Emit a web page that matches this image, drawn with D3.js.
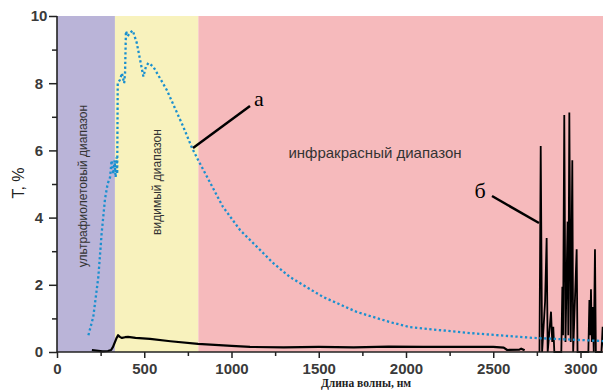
<!DOCTYPE html>
<html>
<head>
<meta charset="utf-8">
<script src="https://cdn.jsdelivr.net/npm/d3@7"></script>
<style>
  body { margin: 0; background: #fff; }
  svg { display: block; }
</style>
</head>
<body>
<svg id="chart" width="603" height="392"></svg>
<script>
// spectral ranges (nm)
const bandEdges = [0, 332, 810, 3140]
const bandColors = ['#bab4d8', '#f8f2bd', '#f6babc']
const bandLabels = ['ультрафиолетовый диапазон', 'видимый диапазон', 'инфракрасный диапазон']

// curve a (dotted blue): [nm, T%]
const curveA = [
  [180, 0.5], [208, 1.05], [237, 2.24], [256, 3.54], [275, 4.55], [290, 5.0],
  [304, 5.2], [313, 5.7], [322, 5.3], [330, 5.7], [336, 5.2], [342, 5.8],
  [345, 5.3], [348, 8.0], [361, 8.1], [372, 8.3], [385, 8.0], [390, 8.3],
  [395, 9.55], [405, 9.4], [418, 9.5], [434, 9.57], [457, 9.2], [495, 8.2],
  [510, 8.5], [524, 8.6], [551, 8.5], [629, 7.8], [724, 6.7], [774, 6.07],
  [810, 5.7], [951, 4.32], [1049, 3.63], [1146, 3.13], [1238, 2.65], [1335, 2.23],
  [1524, 1.64], [1719, 1.19], [1908, 0.89], [2023, 0.74], [2350, 0.57],
  [2728, 0.42], [3112, 0.33], [3140, 0.32]
]

// curve б (black) - continuous part
const curveB = [
  [200, 0.06], [260, 0.02], [292, 0.03], [310, 0.06], [321, 0.15], [340, 0.4],
  [350, 0.5], [360, 0.45], [372, 0.42], [390, 0.44], [407, 0.45], [450, 0.42],
  [533, 0.39], [650, 0.32], [808, 0.24], [1000, 0.18], [1106, 0.15], [1300, 0.14],
  [1500, 0.15], [1700, 0.14], [1900, 0.16], [2100, 0.15], [2300, 0.15], [2500, 0.15],
  [2560, 0.13], [2580, 0.06], [2650, 0.07], [2660, 0.1], [2680, 0.05]
]

// curve б - absorption peaks region
const curveBPeaks = [
  [2765, 0], [2772, 6.13], [2780, 0], [2797, 1.5], [2806, 3.39], [2812, 0],
  [2831, 1.2], [2838, 0.3], [2844, 0.75], [2850, 0], [2890, 0], [2896, 1.94],
  [2900, 0.5], [2907, 7.05], [2914, 0.3], [2926, 3.88], [2930, 0.5], [2936, 7.13],
  [2944, 0.3], [2953, 5.71], [2958, 0], [2978, 3.06], [2983, 0], [3045, 0],
  [3051, 1.55], [3056, 0.5], [3060, 1.87], [3065, 0.3], [3070, 1.34], [3076, 0],
  [3083, 3.06], [3088, 0], [3120, 0], [3127, 0.75], [3135, 0]
]

const xTicks = [0, 500, 1000, 1500, 2000, 2500, 3000]
const yTicks = [0, 2, 4, 6, 8, 10]

const svg = d3.select('#chart')
const padLeft = 57
const padTop = 16
const baseY = 352
const sans = 'Arial, "Liberation Sans", sans-serif'

const x = d3.scaleLinear()
  .domain([0, 3140])
  .range([padLeft, padLeft + 0.1745 * 3140])
const y = d3.scaleLinear()
  .domain([0, 10])
  .range([baseY, padTop])

svg.append('clipPath').attr('id', 'clip')
  .append('rect')
  .attr('x', padLeft).attr('y', 0)
  .attr('width', 603 - padLeft).attr('height', baseY + 1)

const g = svg.append('g').attr('clip-path', 'url(#clip)')

//* * bands
g.selectAll('.band')
  .data(bandColors)
  .enter().append('rect')
  .attr('class', 'band')
  .attr('x', (d, i) => x(bandEdges[i]))
  .attr('y', y(10))
  .attr('width', (d, i) => x(bandEdges[i + 1]) - x(bandEdges[i]))
  .attr('height', y(0) - y(10))
  .attr('fill', (d) => d)

//* * band labels
g.append('text')
  .attr('transform', 'translate(87,' + 186 + ') rotate(-90)')
  .attr('text-anchor', 'middle')
  .style('font', '12px ' + sans)
  .attr('fill', '#333')
  .text(bandLabels[0])
g.append('text')
  .attr('transform', 'translate(161,' + 182 + ') rotate(-90)')
  .attr('text-anchor', 'middle')
  .style('font', '12px ' + sans)
  .attr('fill', '#333')
  .text(bandLabels[1])
g.append('text')
  .attr('x', 375).attr('y', 158)
  .attr('text-anchor', 'middle')
  .style('font', '15px ' + sans)
  .attr('fill', '#333')
  .text(bandLabels[2])

const line = d3.line()
  .x((d) => x(d[0]))
  .y((d) => y(d[1]))

g.append('path')
  .datum(curveB)
  .attr('d', line)
  .attr('fill', 'none')
  .attr('stroke', '#000')
  .attr('stroke-width', 2.2)
  .attr('stroke-linejoin', 'round')

g.append('path')
  .datum(curveBPeaks)
  .attr('d', line)
  .attr('fill', 'none')
  .attr('stroke', '#000')
  .attr('stroke-width', 1.8)
  .attr('stroke-linejoin', 'miter')

g.append('path')
  .datum(curveA)
  .attr('d', line)
  .attr('fill', 'none')
  .attr('stroke', '#1a90cf')
  .attr('stroke-width', 2.3)
  .attr('stroke-dasharray', '2.3,2.5')

//* * leaders and letters
svg.append('line')
  .attr('x1', 193).attr('y1', 148).attr('x2', 250).attr('y2', 106)
  .attr('stroke', '#000').attr('stroke-width', 2.5)
svg.append('text')
  .attr('x', 259).attr('y', 106)
  .attr('text-anchor', 'middle')
  .style('font', '22px "Liberation Serif", "Times New Roman", serif')
  .text('а')
svg.append('line')
  .attr('x1', 492).attr('y1', 196).attr('x2', 539).attr('y2', 223)
  .attr('stroke', '#000').attr('stroke-width', 2.5)
svg.append('text')
  .attr('x', 480).attr('y', 198)
  .attr('text-anchor', 'middle')
  .style('font', '22px "Liberation Serif", "Times New Roman", serif')
  .text('б')

//* * axes
const xAxis = svg.append('g')
  .attr('transform', 'translate(0,' + baseY + ')')
  .call(d3.axisBottom(x).tickValues(xTicks).tickSize(6).tickPadding(5).tickFormat(d3.format('d')))
xAxis.append('g')
  .call(d3.axisBottom(x).tickValues(d3.range(250, 3140, 500)).tickSize(4).tickFormat(''))
  .select('.domain').remove()

const yAxis = svg.append('g')
  .attr('transform', 'translate(' + padLeft + ',0)')
  .call(d3.axisLeft(y).tickValues(yTicks).tickSize(8).tickPadding(10).tickFormat(d3.format('d')))
yAxis.append('g')
  .call(d3.axisLeft(y).tickValues([1, 3, 5, 7, 9]).tickSize(5).tickFormat(''))
  .select('.domain').remove()

svg.selectAll('.domain').attr('stroke', '#222').attr('stroke-width', 1.6)
svg.selectAll('.tick line').attr('stroke', '#222').attr('stroke-width', 1.5)
svg.selectAll('.tick text')
  .attr('fill', '#3a3a3a')
  .style('font', 'bold 15px ' + sans)
// y labels are centred in the reference
yAxis.selectAll('.tick text')
  .attr('text-anchor', 'middle')
  .attr('x', 39 - padLeft)
xAxis.select('.domain').attr('d', 'M' + padLeft + ',0H603')
yAxis.select('.domain').attr('d', 'M0,' + baseY + 'V' + padTop)

svg.append('text')
  .attr('transform', 'translate(24,' + 183 + ') rotate(-90)')
  .attr('text-anchor', 'middle')
  .attr('fill', '#222')
  .style('font', '16px ' + sans)
  .text('T, %')

svg.append('text')
  .attr('x', 366).attr('y', 387)
  .attr('text-anchor', 'middle')
  .attr('fill', '#222')
  .style('font', 'bold 11.5px "Liberation Serif", "Times New Roman", serif')
  .text('Длина волны, нм')
</script>
</body>
</html>
